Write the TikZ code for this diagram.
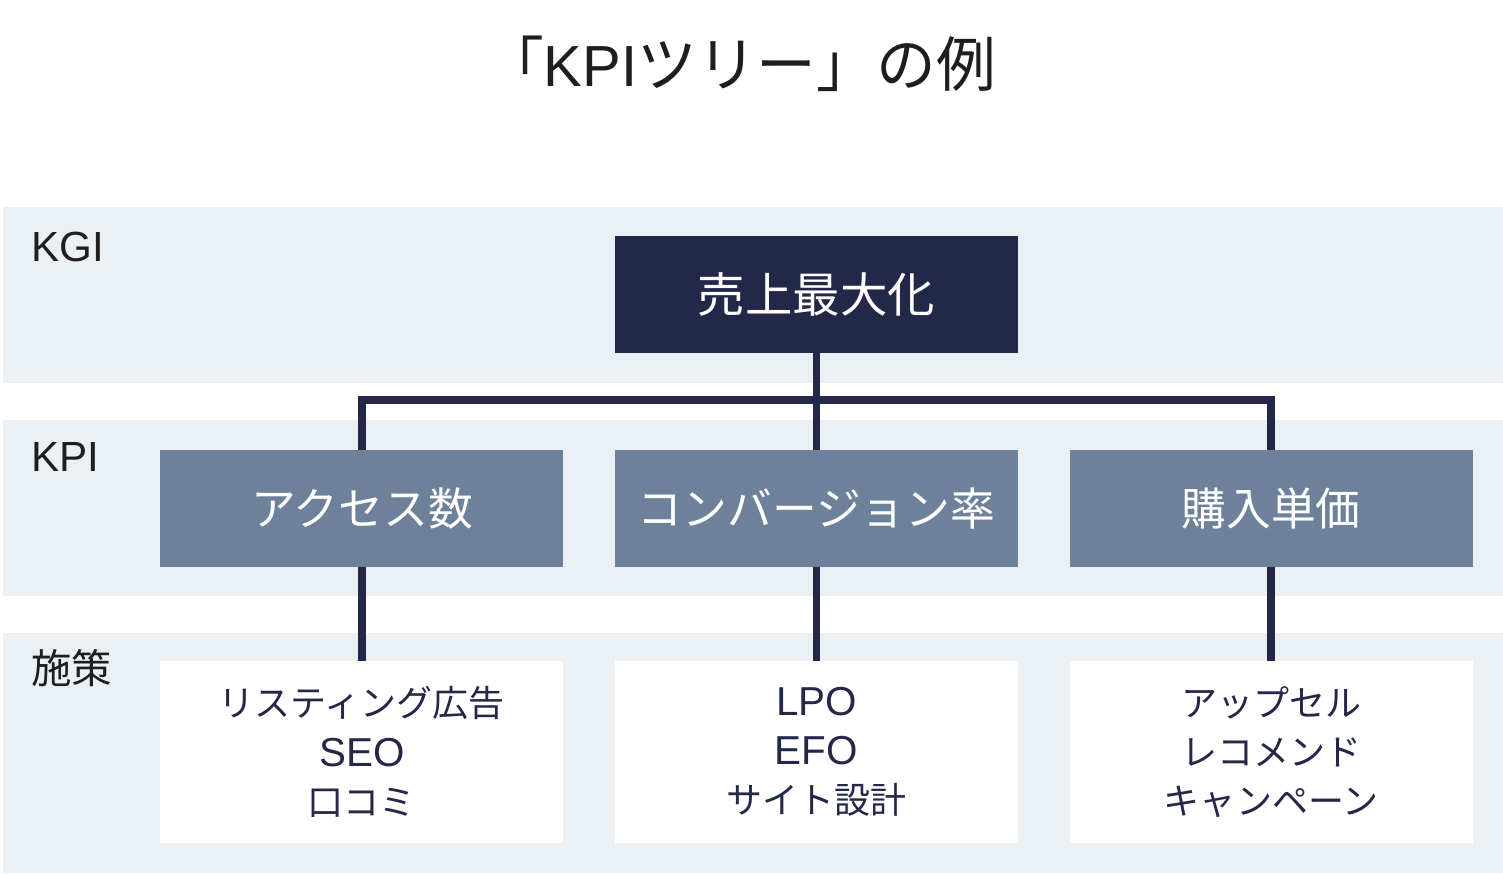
\documentclass[tikz,border=0pt]{standalone}
\usepackage{fontspec}
\setmainfont{Noto Sans CJK JP}
\newfontfamily\latinfont{Liberation Sans}
\usetikzlibrary{positioning}

\definecolor{bandbg}{HTML}{EBF0F5}
\definecolor{navy}{HTML}{232849}
\definecolor{slate}{HTML}{6E819B}
\definecolor{ink}{HTML}{1E1E1E}

\newcommand{\lat}[1]{{\latinfont\fontsize{23}{28}\selectfont #1}}

\begin{document}
\begin{tikzpicture}[x=0.02cm, y=-0.02cm,
		band/.style={fill=bandbg, draw=none},
		levellabel/.style={anchor=west, text=ink, inner sep=0pt, font=\fontsize{23}{26}\selectfont},
		kgibox/.style={fill=navy, text=white, minimum width=8.06cm, minimum height=2.34cm, inner sep=0pt, font=\fontsize{27}{30}\selectfont},
		kpibox/.style={fill=slate, text=white, minimum width=8.06cm, minimum height=2.34cm, inner sep=0pt, font=\fontsize{25.5}{30}\selectfont},
		actbox/.style={fill=white, text=navy, minimum width=8.06cm, minimum height=3.64cm, inner sep=0pt, align=center, font=\fontsize{20.5}{28}\selectfont},
		link/.style={draw=navy, line width=4.5pt}]
		\useasboundingbox (0,0) rectangle (1503,874);

		% title
		\node[text=ink] (title) at (740,64) {\fontsize{34}{38}\selectfont 「{\latinfont\fontsize{33}{38}\selectfont KPI}ツリー」の例};

		% level bands
		\fill[band] (3,207) rectangle (1503,383);
		\fill[band] (3,420) rectangle (1503,596);
		\fill[band] (3,633) rectangle (1503,873);

		\node[levellabel] (lblKGI) at (31,247) {{\latinfont\fontsize{24}{26}\selectfont KGI}};
		\node[levellabel] (lblKPI) at (31,457) {{\latinfont\fontsize{24}{26}\selectfont KPI}};
		\node[levellabel] (lblAct) at (31,668) {施策};

		% boxes
		\node[kgibox] (goal) at (816.5,294.5) {売上最大化};

		\node[kpibox] (kpiB) at (816.5,508.5) {コンバージョン率};
		\node[kpibox, left=1.02cm of kpiB] (kpiA) {アクセス数};
		\node[kpibox, right=1.02cm of kpiB] (kpiC) {購入単価};

		\node[actbox] (actB) at (816.5,752) {\lat{LPO}\\\lat{EFO}\\サイト設計};
		\node[actbox] (actA) at (kpiA |- actB) {リスティング広告\\\lat{SEO}\\口コミ};
		\node[actbox] (actC) at (kpiC |- actB) {アップセル\\レコメンド\\キャンペーン};

		% connectors
		\coordinate (fork) at (816.5,400);
		\draw[link] (goal.south) -- (kpiB.north);
		\draw[link] (kpiA.north) |- (fork) -| (kpiC.north);
		\draw[link] (kpiA.south) -- (actA.north);
		\draw[link] (kpiB.south) -- (actB.north);
		\draw[link] (kpiC.south) -- (actC.north);
	\end{tikzpicture}
\end{document}
